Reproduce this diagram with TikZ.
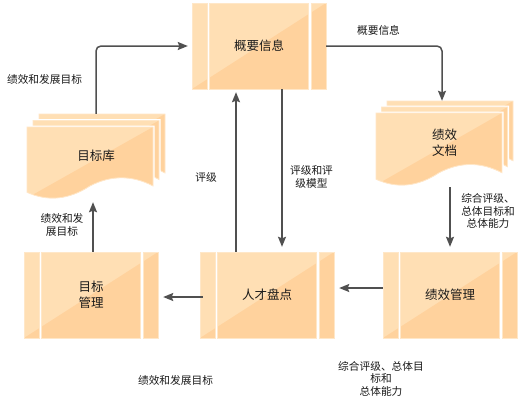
\documentclass[tikz,border=0pt]{standalone}
\usepackage{fontspec}
\setmainfont{Noto Sans CJK SC}
\usetikzlibrary{arrows.meta,calc}
\definecolor{pl}{HTML}{FFDFB4}
\definecolor{pd}{HTML}{FFD29D}
\definecolor{pe}{HTML}{FFE7C8}
\definecolor{ln}{HTML}{505050}
\definecolor{tx}{HTML}{1A1A1A}
\tikzset{
  arr/.style={draw=ln, line width=1.5pt, -{Stealth[length=10pt,width=8pt,inset=1.5pt]}},
  box/.style={minimum width=134pt, minimum height=86pt, inner sep=0pt, text=tx,
              font=\fontsize{12.5}{16}\selectfont, align=center},
  lbl/.style={font=\fontsize{10.7}{12.5}\selectfont, align=center, inner sep=0pt, text=tx},
}
% process box: top-left x,y ; total 134 x 86
\newcommand\pbox[2]{%
  \begin{scope}
    \clip (#1,#2) rectangle ++(15,86) (#1+17.5,#2) rectangle ++(99,86) (#1+119,#2) rectangle ++(15,86);
    \fill[pl] (#1,#2) rectangle ++(134,86);
    \fill[pd] (#1,#2+86) -- (#1+134,#2) -- (#1+134,#2+86) -- cycle;
  \end{scope}
  \draw[pe,line width=0.8pt] (#1,#2) rectangle ++(15,86) (#1+17.5,#2) rectangle ++(99,86) (#1+119,#2) rectangle ++(15,86);
}
% document outline: x y w h options
\newcommand\dshape[5]{%
  \path[#5] (#1,#2) -- (#1+#3,#2) -- (#1+#3,#2+0.83*#4)
    .. controls (#1+0.8333*#3,#2+0.6767*#4) and (#1+0.6667*#3,#2+0.6767*#4) .. (#1+0.5*#3,#2+0.83*#4)
    .. controls (#1+0.3333*#3,#2+1.0233*#4) and (#1+0.1667*#3,#2+1.0533*#4) .. (#1,#2+0.92*#4) -- cycle;
}
\newcommand\dpage[4]{%
  \dshape{#1}{#2}{#3}{#4}{draw=white,line width=3pt}
  \begin{scope}
    \dshape{#1}{#2}{#3}{#4}{clip}
    \fill[pl] (#1,#2) rectangle ++(#3,#4*1.1);
    \fill[pd] (#1,#2+#4) -- (#1+#3,#2) -- (#1+#3,#2+#4*1.1) -- (#1,#2+#4*1.1) -- cycle;
  \end{scope}
  \dshape{#1}{#2}{#3}{#4}{draw=pe,line width=0.8pt}
}
\begin{document}
\begin{tikzpicture}[x=1pt,y=-1pt]
\useasboundingbox (0,0) rectangle (530,405);
\fill[white] (0,0) rectangle (530,405);

% shapes
\pbox{192}{3}
\pbox{200}{252}
\pbox{24}{252}
\pbox{383}{252}
\dpage{39}{114}{126}{71}
\dpage{33}{120.5}{126}{71}
\dpage{27}{127}{126}{71}
\dpage{387}{101}{126}{72}
\dpage{381.5}{107}{126}{72}
\dpage{376}{113}{126}{72}

% nodes
\node[box] (gy) at (259,46) {概要信息};
\node[box] (rc) at (267,295) {人才盘点};
\node[box] (mg) at (91,295) {目标\\管理};
\node[box] (jg) at (450,295) {绩效管理};
\node[box, minimum width=138pt, minimum height=84pt] (mk) at (96,156) {目标库};
\node[box, minimum width=137pt, minimum height=84pt] (wd) at (444.5,143) {绩效\\文档};

% connectors
\draw[arr, rounded corners=5pt] (mk.north) |- ([xshift=-4pt]gy.west);
\draw[arr, rounded corners=5pt] (gy.east) -| ([xshift=-2.5pt]wd.north);
\draw[arr, shorten <=2pt, shorten >=5pt] (wd.south -| jg.north) -- (jg.north);
\draw[arr, shorten >=5pt] ([yshift=7pt]jg.west) -- ([yshift=7pt]rc.east);
\draw[arr, shorten <=-3pt, shorten >=5pt] ([yshift=-2pt]rc.west) -- ([yshift=-2pt]mg.east);
\draw[arr, shorten >=4pt] ([xshift=2pt]mg.north) -- ([xshift=2pt]mg.north |- mk.south);
\draw[arr, shorten >=3pt] ([xshift=-31pt]rc.north) -- ([xshift=-31pt]rc.north |- gy.south);
\draw[arr, shorten >=5pt] ([xshift=23pt]gy.south) -- ([xshift=23pt]gy.south |- rc.north);

% labels
\node[lbl] (l1) at (44.5,79) {绩效和发展目标};
\node[lbl] (l2) at (378.5,30) {概要信息};
\node[lbl] (l3) at (488,211) {综合评级、\\总体目标和\\总体能力};
\node[lbl] (l4) at (62,225) {绩效和发\\展目标};
\node[lbl] (l5) at (206,177) {评级};
\node[lbl] (l6) at (311.5,177) {评级和评\\级模型};
\node[lbl] (l7) at (175.5,380) {绩效和发展目标};
\node[lbl] (l8) at (381,378.5) {综合评级、总体目\\标和\\总体能力};
\end{tikzpicture}
\end{document}
